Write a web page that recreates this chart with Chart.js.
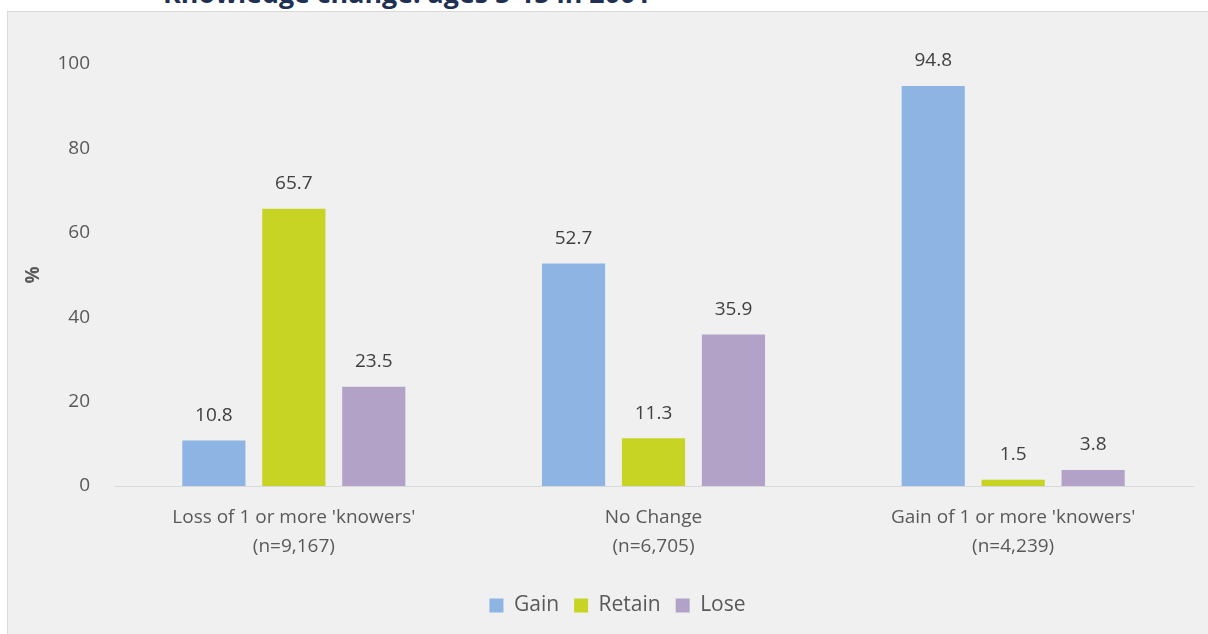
<!DOCTYPE html>
<html>
<head>
<meta charset="utf-8">
<script src="https://cdn.jsdelivr.net/npm/chart.js@4/dist/chart.umd.min.js"></script>
<style>
  html, body { margin: 0; padding: 0; background: #fff; }
  body { width: 1208px; height: 634px; position: relative; overflow: hidden; font-family: 'Open Sans', sans-serif; }
  #heading {
    position: absolute; left: 163px; top: -26px; margin: 0;
    font: bold 26.8px 'Open Sans', sans-serif; color: #1f3152; white-space: nowrap;
  }
  #panel {
    position: absolute; left: 7px; top: 11px; width: 1210px; height: 640px;
    background: #f0f0f0; border: 1px solid #d9d9d9; box-sizing: border-box;
  }
  #wrap { position: absolute; left: 0; top: 0; width: 1208px; height: 634px; }
</style>
</head>
<body>
<h1 id="heading">Knowledge change: ages 5-15 in 2001</h1>
<div id="panel"></div>
<div id="wrap"><canvas id="chart"></canvas></div>
<script>
// ─── DATA ──────────────────────────────────────────────────
const categories = [
  ["Loss of 1 or more 'knowers'", '(n=9,167)'],
  ['No Change', '(n=6,705)'],
  ["Gain of 1 or more 'knowers'", '(n=4,239)'],
];
const gainValues   = [10.8, 52.7, 94.8];
const retainValues = [65.7, 11.3, 1.5];
const loseValues   = [23.5, 35.9, 3.8];
const yTicks = [0, 20, 40, 60, 80, 100];

const TEXT = '#595959';
const FONT = "'Open Sans', sans-serif";

// value labels above every bar
const barLabels = {
  id: 'barLabels',
  afterDatasetsDraw(chart) {
    const { ctx } = chart;
    ctx.save();
    ctx.font = `19px ${FONT}`;
    ctx.fillStyle = '#404040';
    ctx.textAlign = 'center';
    ctx.textBaseline = 'middle';
    chart.data.datasets.forEach((ds, i) => {
      chart.getDatasetMeta(i).data.forEach((bar, j) => {
        ctx.fillText(ds.data[j].toFixed(1), bar.x, bar.y - 25);
      });
    });
    ctx.restore();
  },
};

// legend sits a little right of the canvas centre
const legendShift = {
  id: 'legendShift',
  afterLayout(chart) {
    if (!chart.legend) return;
    chart.legend.left += 21;
    chart.legend.right += 21;
  },
};

new Chart(document.getElementById('chart'), {
  type: 'bar',
  data: {
    labels: categories,
    datasets: [
      { label: 'Gain',   data: gainValues,   backgroundColor: '#8eb4e3' },
      { label: 'Retain', data: retainValues, backgroundColor: '#c8d423' },
      { label: 'Lose',   data: loseValues,   backgroundColor: '#b3a2c7' },
    ],
  },
  options: {
    responsive: true,
    maintainAspectRatio: false,
    animation: false,
    categoryPercentage: 0.667,
    barPercentage: 0.79,
    layout: { padding: { top: 64, right: 15, bottom: 8, left: 0 } },
    plugins: {
      title: { display: false },
      tooltip: { enabled: false },
      legend: {
        position: 'bottom',
        labels: {
          color: TEXT,
          font: { family: FONT, size: 21 },
          boxWidth: 14,
          boxHeight: 14,
          padding: 15,
        },
      },
    },
    scales: {
      x: {
        grid: { display: false },
        border: { display: true, color: '#d9d9d9', width: 1 },
        ticks: {
          color: TEXT,
          font: { family: FONT, size: 19, lineHeight: 1.52 },
          padding: 9,
          maxRotation: 0,
        },
        afterFit: s => { s.height = 94; },
      },
      y: {
        min: 0,
        max: 100,
        afterBuildTicks: s => { s.ticks = yTicks.map(v => ({ value: v })); },
        grid: { display: false, drawTicks: false },
        border: { display: false },
        ticks: { color: TEXT, font: { family: FONT, size: 19 }, padding: 24 },
        title: {
          display: true,
          text: '%',
          color: TEXT,
          font: { family: FONT, size: 19, weight: 'bold' },
          padding: { top: 22, bottom: 0 },
        },
        afterFit: s => { s.width = 114; },
      },
    },
  },
  plugins: [barLabels, legendShift],
});
</script>
</body>
</html>
